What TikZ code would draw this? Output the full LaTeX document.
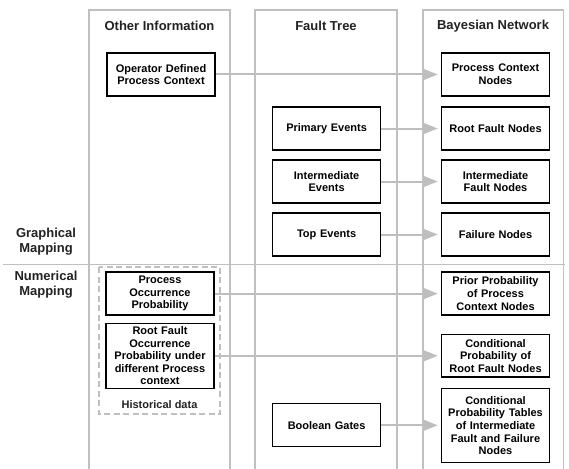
\documentclass[tikz,border=0pt]{standalone}
\usepackage{fontspec}
\setmainfont{Liberation Sans}
\usetikzlibrary{arrows.meta}
\definecolor{lanegray}{RGB}{192,192,192}
\definecolor{arrowgray}{RGB}{190,190,190}
\definecolor{titlegray}{RGB}{34,34,34}
\tikzset{
  x=1pt, y=1pt,
  lane/.style={draw=lanegray, line width=1.6pt},
  fbox/.style={draw=black, line width=1.3pt, align=center, inner sep=0pt,
    minimum width=108pt, minimum height=43pt, text width=104pt,
    font=\bfseries\fontsize{11}{12.6}\selectfont},
  heading/.style={text=titlegray, font=\bfseries\fontsize{13}{15.5}\selectfont, align=center},
  map/.style={draw=arrowgray, line width=2pt, shorten >=3pt,
    -{Triangle[length=14pt, width=10.5pt, fill=arrowgray]}},
  group/.style={draw=lanegray, line width=1.3pt, dash pattern=on 6pt off 3.5pt}
}
\begin{document}
\begin{tikzpicture}
\useasboundingbox (0,0) rectangle (569,-468);

% swim lanes, open at the bottom
\draw[lane] (89,-470) |- (230,-10) -- (230,-470);
\draw[lane] (255,-470) |- (396.7,-10) -- (396.7,-470);
\draw[lane] (422.7,-470) |- (563.3,-10) -- (563.3,-470);
% boundary between the two mapping stages
\draw[lane] (3,-264.5) -- (565,-264.5);

% lane headings
\node[heading] (hoi) at (159.5,-26) {Other Information};
\node[heading] (hft) at (326,-26) {Fault Tree};
\node[heading] (hbn) at (493,-26) {Bayesian Network};

% stage labels
\node[heading] (gm) at (46,-241.5) {Graphical\\Mapping};
\node[heading] (nm) at (46,-284.5) {Numerical\\Mapping};

% historical data group
\draw[group] (99,-267) rectangle (220,-414);
\node[text=titlegray, font=\bfseries\fontsize{11}{12.6}\selectfont] (hd) at (159.5,-405) {Historical data};

% other information
\node[fbox] (od) at (161,-74.5) {Operator Defined\\Process Context};
\node[fbox] (pop) at (160,-293.6) {Process\\Occurrence\\Probability};
\node[fbox, minimum height=65pt] (rfo) at (160,-355.8) {Root Fault\\Occurrence\\Probability under\\different Process\\context};

% fault tree
\node[fbox] (pe) at (326.6,-128.5) {Primary Events};
\node[fbox] (ie) at (326.6,-181.5) {Intermediate\\Events};
\node[fbox] (te) at (326.6,-234.5) {Top Events};
\node[fbox] (bg) at (326.6,-425.3) {Boolean Gates};

% bayesian network
\node[fbox] (pcn) at (495.5,-74.5) {Process Context\\Nodes};
\node[fbox] (rfn) at (495.5,-128.5) {Root Fault Nodes};
\node[fbox] (ifn) at (495.5,-181.5) {Intermediate\\Fault Nodes};
\node[fbox] (fn) at (495.5,-234.5) {Failure Nodes};
\node[fbox] (ppc) at (495.5,-293.6) {Prior Probability\\of Process\\Context Nodes};
\node[fbox, minimum height=42.4pt] (cpr) at (495.5,-355.8) {Conditional\\Probability of\\Root Fault Nodes};
\node[fbox, minimum height=74.4pt] (cpt) at (495.5,-425.5) {Conditional\\Probability Tables\\of Intermediate\\Fault and Failure\\Nodes};

% mappings
\draw[map] (od.east) -- (pcn.west);
\draw[map] (pe.east) -- (rfn.west);
\draw[map] (ie.east) -- (ifn.west);
\draw[map] (te.east) -- (fn.west);
\draw[map] (pop.east) -- (ppc.west);
\draw[map] (rfo.east) -- (rfo.east -| cpr.west);
\draw[map] (bg.east) -- (bg.east -| cpt.west);
\end{tikzpicture}
\end{document}
